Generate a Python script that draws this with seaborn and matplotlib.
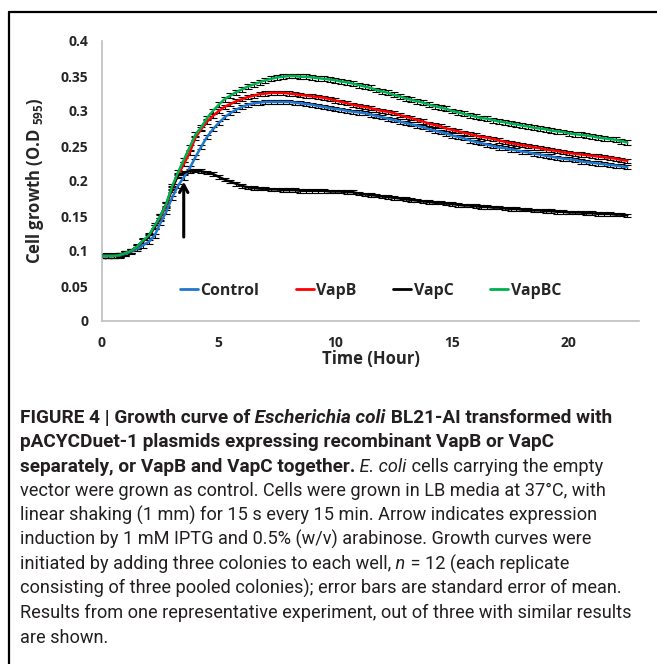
import matplotlib
matplotlib.use("Agg")
import matplotlib.pyplot as plt
from matplotlib.lines import Line2D
import numpy as np
import pandas as pd
import seaborn as sns

# Data: OD595 readings every 15 min (0 - 22.5 h)
hours = np.arange(91) * 0.25

control = [
    0.093, 0.093, 0.093, 0.094,  # 0 h
    0.096, 0.099, 0.103, 0.108,  # 1 h
    0.113, 0.122, 0.140, 0.156,  # 2 h
    0.176, 0.193, 0.205, 0.218,  # 3 h
    0.234, 0.249, 0.263, 0.274,  # 4 h
    0.283, 0.291, 0.297, 0.302,  # 5 h
    0.306, 0.309, 0.311, 0.312,  # 6 h
    0.313, 0.313, 0.313, 0.313,  # 7 h
    0.313, 0.312, 0.311, 0.310,  # 8 h
    0.309, 0.307, 0.306, 0.304,  # 9 h
    0.303, 0.302, 0.300, 0.299,  # 10 h
    0.298, 0.297, 0.295, 0.293,  # 11 h
    0.291, 0.289, 0.287, 0.285,  # 12 h
    0.283, 0.281, 0.279, 0.277,  # 13 h
    0.274, 0.272, 0.270, 0.268,  # 14 h
    0.265, 0.263, 0.261, 0.258,  # 15 h
    0.256, 0.254, 0.252, 0.250,  # 16 h
    0.248, 0.247, 0.245, 0.244,  # 17 h
    0.242, 0.241, 0.239, 0.238,  # 18 h
    0.236, 0.235, 0.233, 0.232,  # 19 h
    0.231, 0.230, 0.228, 0.227,  # 20 h
    0.226, 0.225, 0.224, 0.223,  # 21 h
    0.222, 0.221, 0.220,         # 22 h
]

vapB = [
    0.093, 0.093, 0.093, 0.094,
    0.097, 0.100, 0.106, 0.114,
    0.121, 0.134, 0.148, 0.165,
    0.188, 0.208, 0.224, 0.240,
    0.262, 0.274, 0.285, 0.293,
    0.300, 0.306, 0.310, 0.314,
    0.317, 0.320, 0.322, 0.324,
    0.325, 0.326, 0.326, 0.326,
    0.325, 0.324, 0.323, 0.322,
    0.321, 0.320, 0.319, 0.317,
    0.315, 0.313, 0.311, 0.309,
    0.307, 0.306, 0.304, 0.302,
    0.300, 0.299, 0.297, 0.294,
    0.292, 0.290, 0.287, 0.285,
    0.282, 0.280, 0.278, 0.275,
    0.273, 0.271, 0.269, 0.267,
    0.265, 0.263, 0.262, 0.260,
    0.258, 0.256, 0.254, 0.253,
    0.251, 0.250, 0.248, 0.247,
    0.245, 0.244, 0.243, 0.241,
    0.240, 0.239, 0.238, 0.237,
    0.236, 0.235, 0.234, 0.233,
    0.232, 0.230, 0.229,
]

vapC = [
    0.093, 0.093, 0.093, 0.094,
    0.097, 0.100, 0.106, 0.114,
    0.121, 0.134, 0.150, 0.167,
    0.190, 0.208, 0.212, 0.214,
    0.215, 0.214, 0.212, 0.210,
    0.206, 0.202, 0.199, 0.196,
    0.193, 0.191, 0.190, 0.189,
    0.189, 0.188, 0.188, 0.187,
    0.187, 0.187, 0.186, 0.186,
    0.186, 0.186, 0.186, 0.185,
    0.185, 0.185, 0.184, 0.184,
    0.182, 0.181, 0.180, 0.179,
    0.178, 0.177, 0.176, 0.175,
    0.174, 0.173, 0.172, 0.171,
    0.170, 0.169, 0.169, 0.168,
    0.167, 0.166, 0.165, 0.165,
    0.164, 0.163, 0.163, 0.162,
    0.162, 0.161, 0.160, 0.160,
    0.159, 0.159, 0.158, 0.158,
    0.157, 0.157, 0.156, 0.156,
    0.155, 0.155, 0.155, 0.154,
    0.154, 0.153, 0.153, 0.153,
    0.152, 0.152, 0.151,
]

vapBC = [
    0.093, 0.093, 0.093, 0.094,
    0.097, 0.100, 0.106, 0.115,
    0.122, 0.136, 0.150, 0.167,
    0.192, 0.212, 0.230, 0.248,
    0.266, 0.277, 0.290, 0.300,
    0.309, 0.317, 0.322, 0.327,
    0.331, 0.335, 0.338, 0.341,
    0.344, 0.346, 0.348, 0.349,
    0.350, 0.350, 0.349, 0.349,
    0.348, 0.347, 0.346, 0.345,
    0.344, 0.342, 0.341, 0.339,
    0.337, 0.335, 0.333, 0.330,
    0.328, 0.326, 0.323, 0.321,
    0.318, 0.316, 0.314, 0.312,
    0.309, 0.307, 0.305, 0.303,
    0.300, 0.298, 0.296, 0.294,
    0.292, 0.290, 0.289, 0.287,
    0.285, 0.284, 0.282, 0.281,
    0.279, 0.278, 0.276, 0.275,
    0.274, 0.272, 0.271, 0.270,
    0.268, 0.267, 0.266, 0.265,
    0.264, 0.262, 0.261, 0.260,
    0.259, 0.257, 0.255,
]

series_names = ["Control", "VapB", "VapC", "VapBC"]
series_values = [control, vapB, vapC, vapBC]
sem_values = [0.003, 0.003, 0.0025, 0.0035]   # standard error of mean
series_colors = ["#1F78CC", "#FF0000", "#000000", "#00B050"]

xticks = [0, 5, 10, 15, 20]
yticks = [0, 0.05, 0.1, 0.15, 0.2, 0.25, 0.3, 0.35, 0.4]
ytick_labels = ["0", "0.05", "0.1", "0.15", "0.2", "0.25", "0.3", "0.35", "0.4"]

# Long table for seaborn
df = pd.DataFrame({
    "hour": np.tile(hours, len(series_names)),
    "od": np.concatenate(series_values),
    "strain": np.repeat(series_names, len(hours)),
})

sns.set_style("white")
plt.rcParams["font.family"] = ["Open Sans", "DejaVu Sans"]
plt.rcParams["mathtext.fontset"] = "custom"
plt.rcParams["mathtext.rm"] = "Open Sans:bold"
plt.rcParams["mathtext.default"] = "rm"

W, H = 657, 664
fig = plt.figure(figsize=(W / 100, H / 100), dpi=100)
ax = fig.add_axes([102 / W, 1 - 321 / H, 537 / W, 280 / H])

# Error bars first, lines on top
for vals, sem in zip(series_values, sem_values):
    ax.errorbar(hours, vals, yerr=sem, fmt="none", ecolor="black",
                elinewidth=0.8, capsize=2.6, capthick=0.8, zorder=2)

sns.lineplot(data=df, x="hour", y="od", hue="strain", hue_order=series_names,
             palette=dict(zip(series_names, series_colors)), linewidth=1.8,
             errorbar=None, ax=ax, zorder=3)

# Induction arrow
ax.annotate("", xy=(3.5, 0.199), xytext=(3.5, 0.12),
            arrowprops=dict(arrowstyle="->,head_length=0.55,head_width=0.3",
                            lw=2.2, color="black", shrinkA=0, shrinkB=0))

ax.set_xlim(0, 23)
ax.set_ylim(0, 0.4)
ax.set_xticks(xticks)
ax.set_xticklabels([str(t) for t in xticks], fontweight="bold", fontsize=10)
ax.set_yticks(yticks)
ax.set_yticklabels(ytick_labels, fontweight="bold", fontsize=10)
ax.tick_params(axis="both", direction="out", length=4, width=1, color="#BFBFBF")
ax.tick_params(axis="y", pad=6)
ax.tick_params(axis="x", pad=7)

ax.set_xlabel("Time (Hour)", fontweight="bold", fontsize=12, labelpad=0)
ax.set_ylabel("Cell growth (O.D $_{595}$)", fontweight="bold", fontsize=12, labelpad=10)

for side in ["top", "right"]:
    ax.spines[side].set_visible(False)
for side in ["left", "bottom"]:
    ax.spines[side].set_color("#BFBFBF")
    ax.spines[side].set_linewidth(1.2)

old = ax.get_legend()
handles = old.legend_handles
labels = [t.get_text() for t in old.get_texts()]
old.remove()
for h in handles:
    h.set_linewidth(2)
ax.legend(handles, labels, loc="center", bbox_to_anchor=(0.5, 0.107), ncol=4,
          frameon=False, prop=dict(weight="bold", size=11.4), handlelength=1.15,
          handletextpad=0.15, columnspacing=2.3)

# Frame lines (top and left)
fig.add_artist(Line2D([9 / W, 1], [1 - 12 / H, 1 - 12 / H], color="black",
                      lw=1.6, transform=fig.transFigure))
fig.add_artist(Line2D([9 / W, 9 / W], [0, 1 - 12 / H], color="black",
                      lw=1.6, transform=fig.transFigure))

# Caption, written run by run so bold / italic can be mixed on a line
B, I, BI, R = ("bold", "normal"), ("normal", "italic"), ("bold", "italic"), ("normal", "normal")
caption = [
    [("FIGURE 4 | Growth curve of", B), (" Escherichia coli", BI), (" BL21-AI transformed with", B)],
    [("pACYCDuet-1 plasmids expressing recombinant VapB or VapC", B)],
    [("separately, or VapB and VapC together.", B), (" E. coli", I), (" cells carrying the empty", R)],
    [("vector were grown as control. Cells were grown in LB media at 37°C, with", R)],
    [("linear shaking (1 mm) for 15 s every 15 min. Arrow indicates expression", R)],
    [("induction by 1 mM IPTG and 0.5% (w/v) arabinose. Growth curves were", R)],
    [("initiated by adding three colonies to each well,", R), (" n", I), (" = 12 (each replicate", R)],
    [("consisting of three pooled colonies); error bars are standard error of mean.", R)],
    [("Results from one representative experiment, out of three with similar results", R)],
    [("are shown.", R)],
]
cap_family = "Roboto"
renderer = fig.canvas.get_renderer()


def run_width(runs, size):
    total = 0
    for text, (weight, style) in runs:
        t = fig.text(0, 0, text, fontsize=size, fontweight=weight,
                     fontstyle=style, family=cap_family)
        total += t.get_window_extent(renderer).width
        t.remove()
    return total


# bold size fitted to the first two lines, regular size to line 9
bold_size = 10 * (620 + 511) / (run_width(caption[0], 10) + run_width(caption[1], 10))
reg_size = 10 * 612 / run_width(caption[8], 10)
size_by_weight = {"bold": bold_size, "normal": reg_size}

for k, runs in enumerate(caption):
    x = 20
    y = 1 - (423 + 24.4 * k) / H
    for text, (weight, style) in runs:
        t = fig.text(x / W, y, text, fontsize=size_by_weight[weight], fontweight=weight,
                     fontstyle=style, family=cap_family, color="#231F20",
                     ha="left", va="baseline")
        x = t.get_window_extent(renderer).x1

fig.savefig("out.png", dpi=100)
